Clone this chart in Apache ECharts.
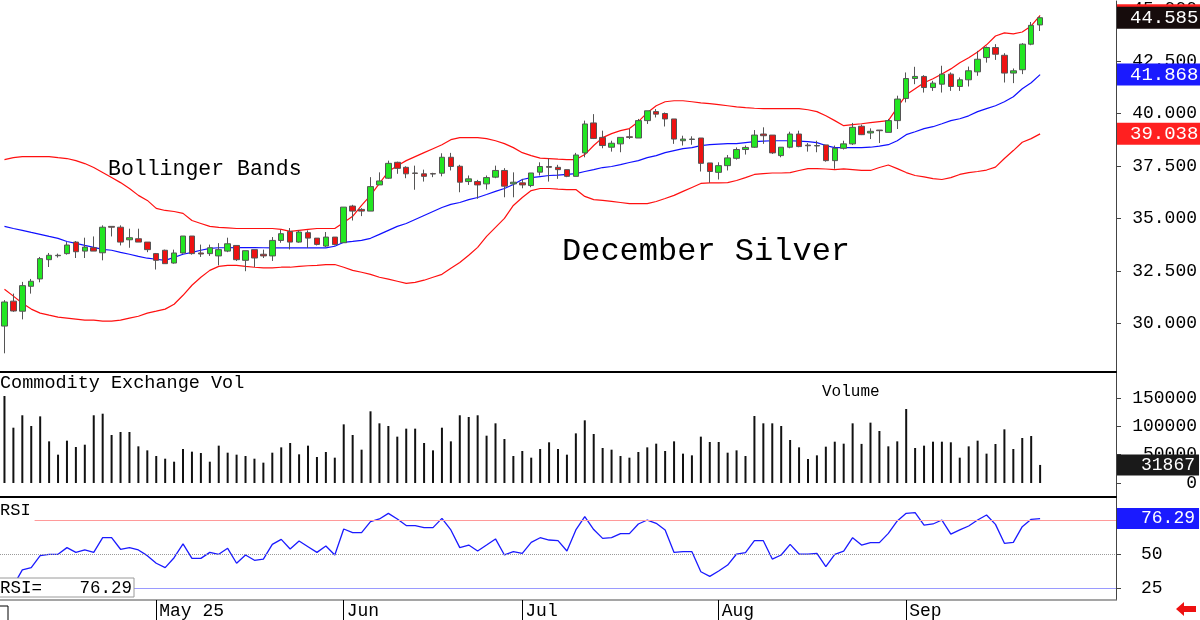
<!DOCTYPE html>
<html>
<head>
<meta charset="utf-8">
<script src="https://cdn.jsdelivr.net/npm/echarts@6/dist/echarts.min.js"></script>
<style>
  html, body { margin: 0; padding: 0; background: #fff; }
  #main { width: 1200px; height: 620px; }
</style>
</head>
<body>
<div id="main"></div>
<script>
const FONT = "'Liberation Mono', 'DejaVu Sans Mono', monospace";

// trading days shown, by month (2025)
const tradingDays = {
    '04': [7, 8, 9, 10, 11, 14, 15, 16, 17, 21, 22, 23, 24, 25, 28, 29, 30],
    '05': [1, 2, 5, 6, 7, 8, 9, 12, 13, 14, 15, 16, 19, 20, 21, 22, 23, 27, 28, 29, 30],
    '06': [2, 3, 4, 5, 6, 9, 10, 11, 12, 13, 16, 17, 18, 20, 23, 24, 25, 26, 27, 30],
    '07': [1, 2, 3, 7, 8, 9, 10, 11, 14, 15, 16, 17, 18, 21, 22, 23, 24, 25, 28, 29, 30, 31],
    '08': [1, 4, 5, 6, 7, 8, 11, 12, 13, 14, 15, 18, 19, 20, 21, 22, 25, 26, 27, 28, 29],
    '09': [2, 3, 4, 5, 8, 9, 10, 11, 12, 15, 16, 17, 18, 19, 22, 23]
};
const monthLabels = {'05': 'May 25', '06': 'Jun', '07': 'Jul', '08': 'Aug', '09': 'Sep'};

const opens = [29.86, 31.05, 30.57, 31.76, 32.11, 33.03, 33.22, 33.32, 33.87, 33.44,
    33.60, 33.36, 34.62, 34.58, 33.98, 34.03, 33.87, 33.32, 33.48, 32.87,
    33.35, 34.16, 33.35, 33.32, 33.21, 33.44, 33.71, 33.00, 33.51, 33.29,
    33.21, 33.95, 34.38, 33.87, 34.32, 34.06, 33.68, 34.11, 33.84, 35.59,
    35.43, 35.35, 36.60, 36.92, 37.68, 37.44, 37.17, 37.13, 37.14, 37.16,
    37.92, 37.49, 36.76, 36.76, 36.65, 36.97, 37.29, 36.65, 36.70, 36.57,
    37.21, 37.48, 37.44, 37.33, 37.01, 38.13, 39.56, 38.87, 38.40, 38.56,
    38.90, 38.84, 39.67, 40.10, 40.01, 39.75, 38.71, 38.77, 38.84, 37.65,
    37.20, 37.52, 37.87, 38.29, 38.40, 39.03, 38.98, 38.00, 38.40, 39.03,
    38.50, 38.46, 38.51, 37.76, 38.35, 38.56, 39.40, 39.08, 39.22, 39.11,
    39.67, 40.73, 41.68, 41.78, 41.25, 41.41, 41.89, 41.30, 41.62, 42.00,
    42.68, 43.16, 42.79, 41.94, 42.10, 43.32, 44.24];
const closes = [31.01, 30.58, 31.79, 32.00, 33.08, 33.24, 33.24, 33.73, 33.41, 33.63,
    33.44, 34.58, 34.58, 33.87, 34.08, 33.87, 33.51, 33.00, 32.84, 33.35,
    34.16, 33.32, 33.30, 33.60, 33.51, 33.79, 33.03, 33.46, 33.11, 33.21,
    33.95, 34.27, 33.87, 34.35, 34.06, 33.76, 34.11, 33.75, 35.54, 35.35,
    35.35, 36.52, 36.79, 37.63, 37.39, 37.13, 37.15, 37.01, 37.12, 37.92,
    37.48, 36.73, 36.89, 36.60, 36.95, 37.29, 36.54, 36.73, 36.60, 37.17,
    37.48, 37.44, 37.33, 37.01, 38.03, 39.51, 38.82, 38.48, 38.59, 38.87,
    38.87, 39.67, 40.14, 39.98, 39.75, 38.79, 38.79, 38.79, 37.63, 37.24,
    37.52, 37.89, 38.29, 38.39, 38.98, 38.95, 38.13, 38.40, 39.03, 38.43,
    38.47, 38.48, 37.76, 38.35, 38.56, 39.35, 39.00, 39.16, 39.19, 39.67,
    40.70, 41.68, 41.78, 41.25, 41.46, 41.89, 41.30, 41.62, 42.05, 42.60,
    43.16, 42.84, 41.94, 42.05, 43.32, 44.22, 44.585];
const lows = [28.56, 30.54, 30.18, 31.41, 31.95, 32.68, 33.13, 33.27, 33.11, 33.11,
    33.44, 33.00, 34.14, 33.71, 33.60, 33.87, 33.39, 32.56, 32.84, 32.84,
    33.32, 33.27, 33.16, 33.21, 32.76, 33.39, 32.97, 32.48, 32.68, 33.11,
    32.97, 33.84, 33.52, 33.84, 33.59, 33.71, 33.63, 33.71, 33.84, 34.90,
    35.11, 35.35, 36.60, 36.89, 37.13, 36.92, 36.37, 36.76, 36.97, 37.01,
    37.29, 36.25, 36.60, 35.94, 36.38, 36.92, 36.01, 36.01, 36.44, 36.49,
    37.05, 36.76, 36.89, 36.97, 37.01, 37.92, 38.79, 38.35, 38.19, 38.16,
    38.79, 38.84, 39.51, 39.82, 39.39, 38.56, 38.48, 38.52, 37.24, 36.70,
    36.86, 37.29, 37.81, 38.05, 38.37, 38.56, 38.08, 37.92, 38.35, 38.40,
    38.19, 38.16, 37.71, 37.37, 38.29, 38.51, 38.98, 38.79, 38.60, 39.11,
    39.27, 40.54, 41.41, 41.01, 41.09, 41.01, 41.09, 41.09, 41.30, 41.81,
    42.44, 42.57, 41.49, 41.46, 41.89, 43.27, 43.95];
const highs = [31.10, 31.41, 31.97, 32.11, 33.16, 33.35, 33.32, 33.87, 33.92, 34.08,
    34.14, 34.67, 34.62, 34.67, 34.51, 34.51, 33.87, 33.35, 33.51, 33.51,
    34.16, 34.16, 33.75, 33.75, 33.82, 34.08, 33.71, 33.46, 33.51, 33.51,
    34.11, 34.46, 34.54, 34.43, 34.43, 34.06, 34.35, 34.11, 35.54, 35.65,
    35.49, 36.97, 37.20, 37.76, 37.71, 37.49, 37.52, 37.33, 37.18, 38.11,
    38.13, 37.56, 37.05, 36.84, 37.05, 37.52, 37.40, 37.20, 36.89, 37.17,
    37.68, 37.87, 37.56, 37.33, 38.13, 39.67, 39.98, 39.19, 38.71, 38.87,
    39.27, 39.75, 40.14, 40.22, 40.06, 39.75, 38.95, 38.92, 38.84, 37.65,
    37.68, 38.03, 38.39, 38.48, 39.22, 39.35, 38.98, 38.40, 39.14, 39.19,
    38.60, 38.71, 38.51, 38.48, 38.71, 39.56, 39.48, 39.30, 39.22, 39.75,
    40.86, 41.97, 42.24, 41.84, 41.57, 42.29, 41.97, 41.73, 42.25, 43.00,
    43.21, 43.32, 42.89, 42.16, 43.37, 44.38, 44.65];

const upperBand = [37.81, 37.90, 37.95, 37.95, 37.95, 37.95, 37.90, 37.86, 37.76, 37.62,
    37.43, 37.19, 36.95, 36.71, 36.43, 36.10, 35.86, 35.48, 35.38, 35.33,
    35.24, 34.90, 34.76, 34.62, 34.57, 34.55, 34.52, 34.52, 34.52, 34.52,
    34.52, 34.48, 34.38, 34.43, 34.48, 34.52, 34.52, 34.52, 34.81, 35.10,
    35.62, 36.10, 36.67, 37.24, 37.52, 37.76, 37.95, 38.14, 38.33, 38.52,
    38.76, 38.86, 38.86, 38.86, 38.81, 38.71, 38.57, 38.38, 38.14, 38.00,
    37.88, 37.86, 37.83, 37.81, 37.81, 38.05, 38.48, 38.86, 39.05, 39.19,
    39.29, 39.62, 40.05, 40.38, 40.57, 40.62, 40.62, 40.57, 40.52, 40.48,
    40.43, 40.38, 40.33, 40.29, 40.26, 40.24, 40.24, 40.24, 40.24, 40.24,
    40.19, 40.10, 39.90, 39.67, 39.43, 39.48, 39.52, 39.57, 39.62, 39.67,
    40.29, 40.90, 41.19, 41.48, 41.67, 41.90, 42.14, 42.43, 42.67, 42.95,
    43.29, 43.71, 43.86, 43.81, 43.90, 44.19, 44.698];
const midBand = [34.62, 34.52, 34.43, 34.33, 34.24, 34.14, 34.05, 33.90, 33.81, 33.71,
    33.62, 33.52, 33.48, 33.38, 33.29, 33.19, 33.10, 33.05, 33.00, 33.14,
    33.29, 33.38, 33.48, 33.57, 33.60, 33.60, 33.61, 33.61, 33.61, 33.60,
    33.59, 33.59, 33.59, 33.59, 33.59, 33.59, 33.59, 33.67, 33.86, 33.90,
    33.95, 34.05, 34.24, 34.43, 34.62, 34.76, 34.95, 35.14, 35.33, 35.52,
    35.67, 35.76, 35.90, 36.00, 36.14, 36.29, 36.43, 36.62, 36.86, 36.95,
    37.00, 37.05, 37.07, 37.10, 37.14, 37.24, 37.33, 37.43, 37.48, 37.57,
    37.67, 37.76, 37.90, 38.00, 38.14, 38.24, 38.33, 38.38, 38.48, 38.52,
    38.55, 38.57, 38.57, 38.62, 38.67, 38.69, 38.71, 38.71, 38.71, 38.69,
    38.67, 38.62, 38.48, 38.38, 38.38, 38.38, 38.38, 38.40, 38.45, 38.52,
    38.71, 39.00, 39.14, 39.29, 39.38, 39.52, 39.67, 39.76, 39.90, 40.10,
    40.24, 40.38, 40.57, 40.81, 41.19, 41.48, 41.868];
const lowerBand = [31.62, 31.29, 30.95, 30.67, 30.48, 30.38, 30.29, 30.24, 30.19, 30.14,
    30.14, 30.10, 30.10, 30.14, 30.24, 30.33, 30.48, 30.57, 30.67, 30.90,
    31.33, 31.81, 32.19, 32.52, 32.71, 32.76, 32.76, 32.71, 32.67, 32.64,
    32.64, 32.67, 32.67, 32.71, 32.74, 32.76, 32.79, 32.80, 32.67, 32.52,
    32.43, 32.33, 32.19, 32.10, 32.00, 31.90, 31.95, 32.05, 32.19, 32.33,
    32.62, 32.90, 33.24, 33.62, 34.14, 34.57, 35.00, 35.62, 36.00, 36.33,
    36.43, 36.43, 36.40, 36.38, 36.38, 36.05, 35.90, 35.86, 35.81, 35.76,
    35.71, 35.71, 35.71, 35.81, 35.95, 36.10, 36.29, 36.48, 36.67, 36.70,
    36.70, 36.71, 36.81, 36.95, 37.10, 37.14, 37.17, 37.17, 37.19, 37.29,
    37.38, 37.38, 37.36, 37.33, 37.37, 37.33, 37.29, 37.29, 37.43, 37.55,
    37.38, 37.19, 37.05, 36.98, 36.90, 36.86, 36.95, 37.10, 37.19, 37.24,
    37.31, 37.45, 37.86, 38.24, 38.64, 38.81, 39.038];

const volumes = [153500, 97600, 119500, 100600, 117600, 73500, 50000, 74700, 63500, 67600,
    119500, 122300, 84700, 90000, 90000, 64700, 57600, 47600, 42900, 37600,
    60000, 55300, 52900, 37600, 65900, 53500, 50000, 47600, 42900, 35900,
    53500, 62900, 70600, 50600, 65900, 45900, 54700, 44700, 103500, 84700,
    58800, 126500, 105300, 100600, 81800, 95900, 95900, 70600, 57600, 97600,
    73500, 119500, 116500, 119500, 83500, 105300, 77600, 47600, 56500, 44700,
    60000, 71800, 60000, 50000, 87600, 110600, 86500, 61800, 58800, 47600,
    44700, 54700, 62900, 69400, 56500, 73500, 51800, 48800, 81800, 72400,
    72400, 53500, 57600, 47600, 118200, 105300, 105300, 100600, 75900, 62900,
    42400, 48800, 64100, 72900, 69400, 105300, 69000, 106500, 91800, 64700,
    73500, 130600, 61800, 65900, 72900, 72900, 71800, 44700, 64700, 74700,
    51800, 68800, 94700, 60000, 79400, 82900, 31867];

const rsi = [22.0, 27.0, 38.5, 40.2, 49.0, 50.0, 50.0, 54.9, 51.4, 53.2,
    51.4, 62.2, 62.2, 53.7, 54.9, 53.2, 49.0, 43.4, 40.2, 47.5,
    57.6, 47.0, 47.0, 51.4, 50.0, 54.4, 43.4, 49.5, 45.6, 46.5,
    57.3, 61.0, 53.9, 59.8, 55.6, 51.4, 56.1, 49.5, 68.6, 65.9,
    65.9, 74.0, 76.0, 80.1, 76.0, 71.1, 71.1, 69.6, 69.6, 76.4,
    67.9, 54.9, 56.8, 52.4, 56.8, 61.3, 49.5, 51.9, 50.7, 58.8,
    62.2, 60.5, 60.0, 52.4, 67.9, 77.7, 68.2, 61.7, 62.2, 65.2,
    65.2, 72.3, 75.2, 72.8, 67.9, 51.4, 51.9, 51.9, 37.2, 33.8,
    37.7, 42.1, 50.2, 51.2, 60.0, 60.0, 46.5, 49.5, 57.3, 50.2,
    50.2, 50.7, 40.9, 50.0, 52.4, 62.2, 56.8, 58.6, 58.6, 65.4,
    74.5, 80.1, 80.6, 71.5, 72.3, 75.2, 64.9, 67.9, 70.8, 75.2,
    78.9, 72.0, 58.1, 58.8, 70.3, 75.7, 76.29];

const priceTicks = [30, 32.5, 35, 37.5, 40, 42.5, 45];
const volumeTicks = [0, 50000, 100000, 150000];
const rsiTicks = [25, 50, 75];

// category axis: trading dates plus empty room on the right
const dates = [];
const monthStart = {};
Object.keys(tradingDays).forEach(m => {
    tradingDays[m].forEach((d, k) => {
        if (k === 0 && monthLabels[m]) monthStart[dates.length] = monthLabels[m];
        dates.push('2025-' + m + '-' + String(d).padStart(2, '0'));
    });
});
for (let i = 0; i < 8; i++) dates.push('pad' + i);

const candles = opens.map((o, i) => [o, closes[i], lows[i], highs[i]]);
const last = closes.length - 1;
const isMonthStart = (idx) => monthStart[idx] !== undefined;

const HIDDEN = {color: 'rgba(0,0,0,0)', width: 0};

// value tag drawn on the right of the axis
const tag = (bg, text, padLeft, size) => ({
    show: true,
    position: 'end',
    distance: 1,
    formatter: () => text,
    color: '#fff',
    backgroundColor: bg,
    fontFamily: FONT,
    fontSize: size || 19,
    padding: [2, 4, 1, padLeft]
});

const gridLeft = -4.48;
const gridRight = 84;

const chart = echarts.init(document.getElementById('main'), null, {renderer: 'canvas'});

const rightAxis = (grid, min, max, ticks, fmt, label) => ({
    type: 'value',
    gridIndex: grid,
    position: 'right',
    min: min,
    max: max,
    splitLine: {show: false},
    axisLine: {show: true, lineStyle: {color: '#444', width: 1}},
    axisTick: {show: true, customValues: ticks, length: 5, lineStyle: {color: '#444'}},
    axisLabel: Object.assign({
        customValues: ticks,
        formatter: fmt,
        color: '#000',
        fontFamily: FONT,
        fontSize: 18
    }, label)
});

const option = {
    animation: false,
    backgroundColor: '#fff',
    grid: [
        {left: gridLeft, right: gridRight, top: 0, height: 372},
        {left: gridLeft, right: gridRight, top: 372, height: 125},
        {left: gridLeft, right: gridRight, top: 497, height: 103}
    ],
    xAxis: [
        {
            type: 'category', gridIndex: 0, data: dates, boundaryGap: true,
            axisLine: {show: true, lineStyle: {color: '#000', width: 2}},
            axisTick: {show: false}, axisLabel: {show: false}
        },
        {
            type: 'category', gridIndex: 1, data: dates, boundaryGap: true,
            axisLine: {show: false}, axisTick: {show: false}, axisLabel: {show: false}
        },
        {
            type: 'category', gridIndex: 2, data: dates, boundaryGap: true,
            axisLine: {show: true, lineStyle: {color: '#888', width: 1.5}},
            axisTick: {
                show: true, alignWithLabel: true, length: 20,
                interval: isMonthStart,
                lineStyle: {color: '#000', width: 1}
            },
            axisLabel: {
                show: true,
                interval: isMonthStart,
                formatter: (v, idx) => monthStart[idx] || '',
                align: 'left',
                margin: 2,
                padding: [0, 0, 0, 3],
                color: '#000',
                fontFamily: FONT,
                fontSize: 18
            }
        },
        {
            type: 'category', gridIndex: 2, data: dates, boundaryGap: true, position: 'top',
            axisLine: {show: true, lineStyle: {color: '#000', width: 2}},
            axisTick: {show: false}, axisLabel: {show: false}
        }
    ],
    yAxis: [
        rightAxis(0, 27.667, 45.381, priceTicks, v => v.toFixed(3), {align: 'right', margin: 81}),
        rightAxis(1, -24706, 195882, volumeTicks, v => String(v), {align: 'right', margin: 81}),
        rightAxis(2, 16.4, 92.13, rsiTicks, v => String(v), {align: 'left', margin: 25})
    ],
    series: [
        {
            name: 'Upper', type: 'line', xAxisIndex: 0, yAxisIndex: 0,
            data: upperBand, symbol: 'none', z: 3,
            lineStyle: {color: '#ff1010', width: 1.2},
            markLine: {
                silent: true, symbol: 'none', animation: false, precision: 3,
                lineStyle: HIDDEN,
                label: tag('#ff2020', upperBand[last].toFixed(3), 13),
                data: [{yAxis: upperBand[last]}]
            }
        },
        {
            name: 'Mid', type: 'line', xAxisIndex: 0, yAxisIndex: 0,
            data: midBand, symbol: 'none', z: 3,
            lineStyle: {color: '#1010ff', width: 1.2},
            markLine: {
                silent: true, symbol: 'none', animation: false, precision: 3,
                lineStyle: HIDDEN,
                label: tag('#1a1aff', midBand[last].toFixed(3), 13),
                data: [{yAxis: midBand[last]}]
            }
        },
        {
            name: 'Lower', type: 'line', xAxisIndex: 0, yAxisIndex: 0,
            data: lowerBand, symbol: 'none', z: 3,
            lineStyle: {color: '#ff1010', width: 1.2},
            markLine: {
                silent: true, symbol: 'none', animation: false, precision: 3,
                lineStyle: HIDDEN,
                label: tag('#ff2020', lowerBand[last].toFixed(3), 13),
                data: [{yAxis: lowerBand[last]}]
            }
        },
        {
            name: 'December Silver', type: 'candlestick', xAxisIndex: 0, yAxisIndex: 0,
            data: candles, barWidth: 6, z: 5,
            itemStyle: {
                color: '#22e622', color0: '#ee1111',
                borderColor: '#555', borderColor0: '#555', borderWidth: 1
            },
            markLine: {
                silent: true, symbol: 'none', animation: false, precision: 3,
                lineStyle: HIDDEN,
                label: tag('#160c0c', closes[last].toFixed(3), 13),
                data: [{yAxis: closes[last]}]
            }
        },
        {
            name: 'Volume', type: 'bar', xAxisIndex: 1, yAxisIndex: 1,
            data: volumes, barWidth: 2,
            itemStyle: {color: '#111'},
            markLine: {
                silent: true, symbol: 'none', animation: false,
                lineStyle: HIDDEN,
                label: tag('#1a1a1a', String(volumes[last]), 24, 18),
                data: [{yAxis: volumes[last]}]
            }
        },
        {
            name: 'RSI', type: 'line', xAxisIndex: 2, yAxisIndex: 2,
            data: rsi, symbol: 'none', z: 4,
            lineStyle: {color: '#1a1aff', width: 1.3},
            markLine: {
                silent: true, symbol: 'none', animation: false, precision: 2,
                data: [
                    {yAxis: 75, lineStyle: {color: '#ff9a9a', width: 1, type: 'solid'}, label: {show: false}},
                    {yAxis: 50, lineStyle: {color: '#9a9a9a', width: 1, type: 'dotted'}, label: {show: false}},
                    {yAxis: 25, lineStyle: {color: '#9a9aff', width: 1, type: 'solid'}, label: {show: false}},
                    {
                        yAxis: rsi[last], lineStyle: HIDDEN,
                        label: tag('#1a1aff', rsi[last].toFixed(2), 24, 18)
                    }
                ]
            }
        }
    ],
    graphic: [
        {
            type: 'text', left: 108, top: 158, z: 20,
            style: {text: 'Bollinger Bands', fill: '#000', font: '21.5px ' + FONT}
        },
        {
            type: 'text', left: 562, top: 236, z: 20,
            style: {text: 'December Silver', fill: '#000', font: '32px ' + FONT}
        },
        {
            type: 'text', left: 0, top: 374, z: 20,
            style: {text: 'Commodity Exchange Vol', fill: '#000', font: '18.5px ' + FONT}
        },
        {
            type: 'text', left: 822, top: 384, z: 20,
            style: {text: 'Volume', fill: '#000', font: '16px ' + FONT}
        },
        {
            type: 'text', left: 0, top: 501, z: 20,
            style: {
                text: 'RSI', fill: '#000', font: '17px ' + FONT,
                backgroundColor: '#fff', padding: [1, 4, 2, 0]
            }
        },
        {
            type: 'rect', z: 30,
            shape: {x: -1, y: 578, width: 135, height: 19},
            style: {fill: '#fff', stroke: '#9a9a9a', lineWidth: 1}
        },
        {
            type: 'text', left: 0, top: 579, z: 31,
            style: {text: 'RSI=', fill: '#000', font: '17.5px ' + FONT}
        },
        {
            type: 'text', right: 1068, top: 579, z: 31,
            style: {text: rsi[last].toFixed(2), fill: '#000', font: '17.5px ' + FONT}
        },
        {
            type: 'polyline', z: 20,
            shape: {points: [[0, 606], [8, 606], [8, 620]]},
            style: {stroke: '#000', lineWidth: 1, fill: null}
        },
        {
            type: 'polygon', z: 20,
            shape: {points: [[1176, 609], [1184, 602], [1184, 606], [1196, 606], [1196, 612], [1184, 612], [1184, 616]]},
            style: {fill: '#ee1111'}
        }
    ]
};

chart.setOption(option);
</script>
</body>
</html>
